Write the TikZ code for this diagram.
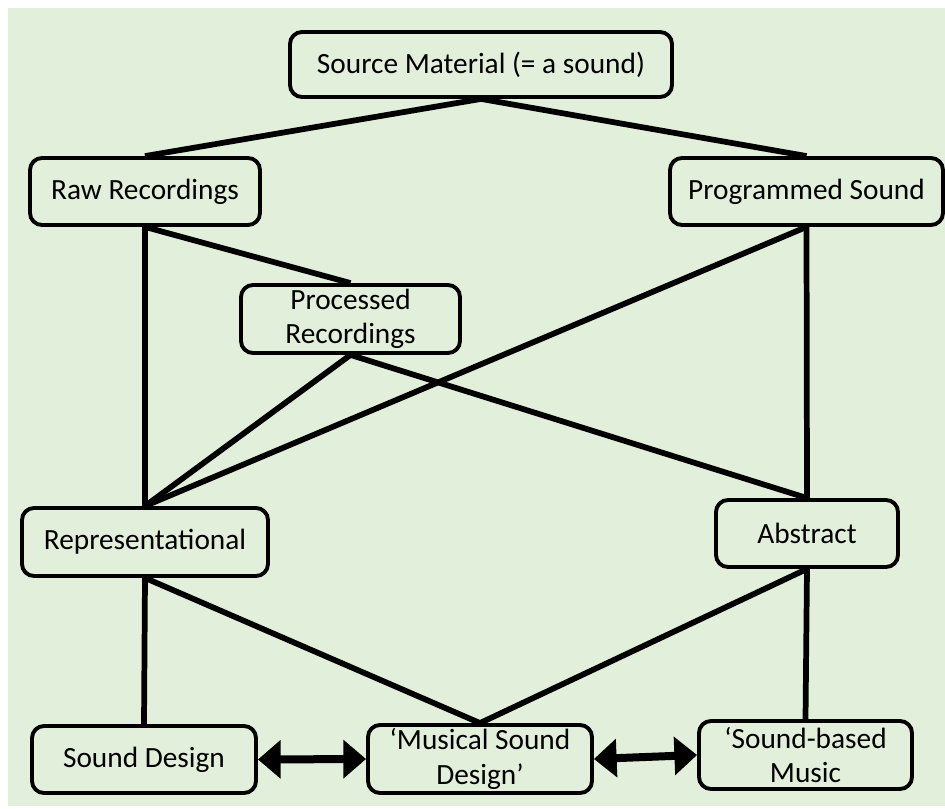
\documentclass[tikz,border=0pt]{standalone}
\usepackage{fontspec}
\setmainfont{Carlito}
\usepackage{tikz}
\usetikzlibrary{arrows.meta}

\definecolor{paleg}{HTML}{E2EFDA}

\begin{document}
\begin{tikzpicture}[x=0.75pt,y=-0.75pt,
  box/.style={draw,line width=2.9pt,rounded corners=9pt,align=center,inner sep=0pt,
    font=\fontsize{22}{26}\selectfont},
  link/.style={line width=4.3pt},
  dbl/.style={line width=6pt,{Triangle[length=17pt,width=28pt]}-{Triangle[length=17pt,width=28pt]}}]

\useasboundingbox (0,0) rectangle (945,809);
\fill[white] (0,0) rectangle (945,809);
\fill[paleg] (8,8) rectangle (945,806);

% top levels
\node[box,minimum width=286.5pt,minimum height=48.75pt] (src) at (481,64.5) {Source Material (= a sound)};
\node[box,minimum width=172.5pt,minimum height=50.25pt] (raw) at (145,191.5) {Raw Recordings};
\node[box,minimum width=204.75pt,minimum height=50.25pt] (prog) at (806.5,191.5) {Programmed Sound};
\node[box,minimum width=164.25pt,minimum height=51pt] (proc) at (350.5,319) {Processed\\Recordings};

% middle level
\node[box,minimum width=184.5pt,minimum height=51pt] (repr) at (145,542) {Representational};
\node[box,minimum width=136.5pt,minimum height=50.25pt] (abs) at (807,533.5) {Abstract};

% bottom level
\node[box,minimum width=168pt,minimum height=50.25pt] (sd) at (144,759.5) {Sound Design};
\node[box,minimum width=168pt,minimum height=51pt] (msd) at (480,759) {‘Musical Sound\\Design’};
\node[box,minimum width=159.75pt,minimum height=51pt] (sbm) at (805.5,755) {‘Sound-based\\Music};

\draw[link] (raw.north) -- (src.south) -- (prog.north);

\foreach \a/\b in {raw/repr,raw/proc,proc/repr,proc/abs,prog/repr,prog/abs,repr/sd,repr/msd,abs/msd,abs/sbm}
    \draw[link] (\a.south) -- (\b.north);

\draw[dbl] (sd.east) -- (msd.west);
\draw[dbl] (msd.east) -- (sbm.west);

\end{tikzpicture}
\end{document}
